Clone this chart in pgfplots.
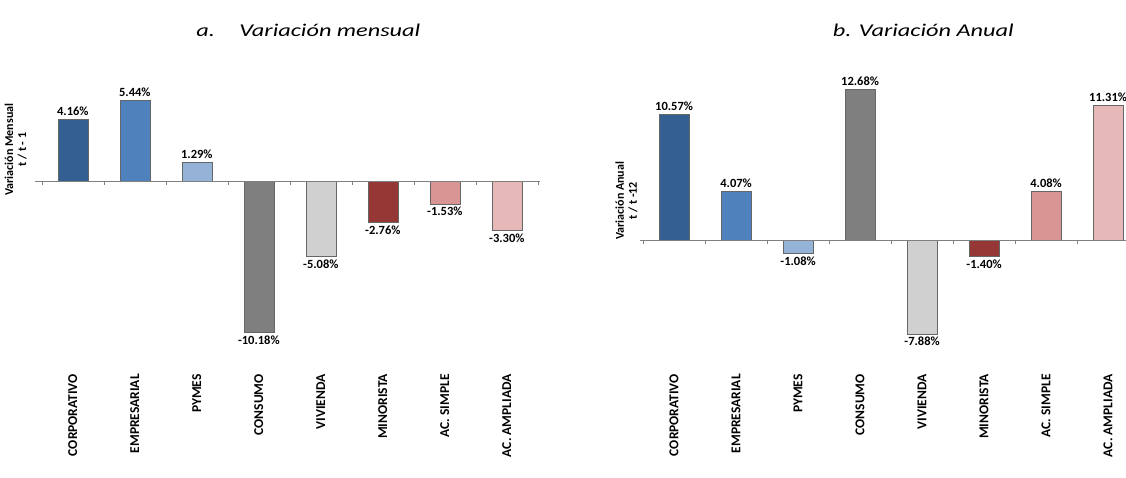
\documentclass[border=0pt]{standalone}
\usepackage{pgfplots}
\pgfplotsset{compat=1.18}
\usepackage{fontspec}
\setmainfont{Carlito}
\definecolor{c1}{HTML}{335F91}
\definecolor{c2}{HTML}{4F81BD}
\definecolor{c3}{HTML}{95B3D7}
\definecolor{c4}{HTML}{7F7F7F}
\definecolor{c5}{HTML}{D0D0D0}
\definecolor{c6}{HTML}{953735}
\definecolor{c7}{HTML}{D99594}
\definecolor{c8}{HTML}{E6B9B8}
\pgfplotsset{
  base/.style={
    ybar, bar width=30pt, bar shift=0pt,
    axis x line=bottom, axis y line=none, x axis line style={draw=none,-},
    major tick length=0pt, scale only axis,
    anchor=south west, clip=false,
    xtick={0,...,7}, xticklabels={CORPORATIVO,EMPRESARIAL,PYMES,CONSUMO,VIVIENDA,MINORISTA,AC. SIMPLE,AC. AMPLIADA},
    xticklabel style={rotate=90,anchor=east,font=\bfseries\fontsize{13.5}{14}\selectfont,inner sep=2pt},
    nodes near coords={\pgfplotspointmeta\%},
    every node near coord/.append style={font=\bfseries\fontsize{12.5}{13}\selectfont,black},
    point meta=explicit symbolic,
  },
  pos/.style={draw=black!60,every node near coord/.append style={anchor=south}},
  neg/.style={draw=black!60,every node near coord/.append style={anchor=north}},
}
\begin{document}
\begin{tikzpicture}[x=1pt,y=1pt]
\useasboundingbox (0,0) rectangle (1126,477);
% left
\begin{axis}[base, at={(35pt,105pt)}, x=62pt, y=14.9pt,
  xmin=-0.61, xmax=7.53, ymin=-12.82, ymax=12.15]
\addplot[pos,fill=c1] coordinates {(0,4.16) [4.16]};
\addplot[pos,fill=c2] coordinates {(1,5.44) [5.44]};
\addplot[pos,fill=c3] coordinates {(2,1.29) [1.29]};
\addplot[neg,fill=c4] coordinates {(3,-10.18) [-10.18]};
\addplot[neg,fill=c5] coordinates {(4,-5.08) [-5.08]};
\addplot[neg,fill=c6] coordinates {(5,-2.76) [-2.76]};
\addplot[neg,fill=c7] coordinates {(6,-1.53) [-1.53]};
\addplot[neg,fill=c8] coordinates {(7,-3.30) [-3.30]};
\draw[black!50] (axis cs:-0.61,0) -- (axis cs:7.53,0);
\pgfplotsinvokeforeach{-0.5,0.5,1.5,2.5,3.5,4.5,5.5,6.5,7.5}{\draw[black!50] (axis cs:#1,0) -- ([yshift=-4pt]axis cs:#1,0);}
\node[font=\itshape\fontsize{18}{19}\selectfont] at (axis cs:3.8,10.1) {\scalebox{1.35}[1]{a.\quad Variación mensual}};
\node[rotate=90,align=center,font=\bfseries\fontsize{12}{13}\selectfont] at (axis cs:-0.92,2.1) {Variación Mensual\\t / t - 1};
\end{axis}
% right
\begin{axis}[base, at={(640pt,105pt)}, x=62pt, y=11.9pt,
  xmin=-0.55, xmax=7.29, ymin=-11.09, ymax=20.17]
\addplot[pos,fill=c1] coordinates {(0,10.57) [10.57]};
\addplot[pos,fill=c2] coordinates {(1,4.07) [4.07]};
\addplot[neg,fill=c3] coordinates {(2,-1.08) [-1.08]};
\addplot[pos,fill=c4] coordinates {(3,12.68) [12.68]};
\addplot[neg,fill=c5] coordinates {(4,-7.88) [-7.88]};
\addplot[neg,fill=c6] coordinates {(5,-1.40) [-1.40]};
\addplot[pos,fill=c7] coordinates {(6,4.08) [4.08]};
\addplot[pos,fill=c8] coordinates {(7,11.31) [11.31]};
\draw[black!50] (axis cs:-0.55,0) -- (axis cs:7.29,0);
\pgfplotsinvokeforeach{-0.5,0.5,1.5,2.5,3.5,4.5,5.5,6.5}{\draw[black!50] (axis cs:#1,0) -- ([yshift=-4pt]axis cs:#1,0);}
\node[font=\itshape\fontsize{18}{19}\selectfont] at (axis cs:4.02,17.6) {\scalebox{1.35}[1]{b. Variación Anual}};
\node[rotate=90,align=center,font=\bfseries\fontsize{12}{13}\selectfont] at (axis cs:-0.77,3.3) {Variación Anual\\t / t -12};
\end{axis}
\end{tikzpicture}
\end{document}
